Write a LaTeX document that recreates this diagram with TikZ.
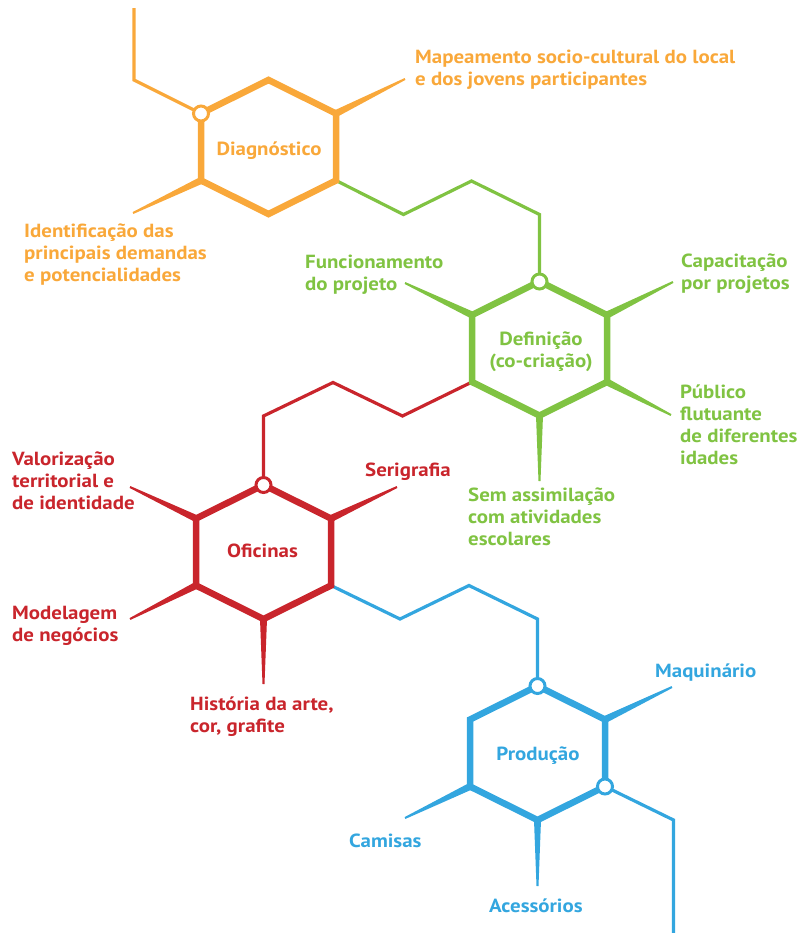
\documentclass[tikz,border=0pt]{standalone}
\usepackage{fontspec}
\setmainfont[FakeStretch=1.1]{PT Sans}
\usetikzlibrary{calc}
\definecolor{corange}{HTML}{F9A83A}
\definecolor{cgreen}{HTML}{80C342}
\definecolor{cred}{HTML}{C9252C}
\definecolor{cblue}{HTML}{33A6DF}
\newcommand\labfont{\fontsize{19bp}{22bp}\selectfont\bfseries}
\newcommand\hexpts[3]{%
  \coordinate (#1-t)  at (#2,#3-67);
  \coordinate (#1-ur) at (#2+67.5,#3-33.5);
  \coordinate (#1-lr) at (#2+67.5,#3+33.5);
  \coordinate (#1-b)  at (#2,#3+67);
  \coordinate (#1-ll) at (#2-67.5,#3+33.5);
  \coordinate (#1-ul) at (#2-67.5,#3-33.5);
  \coordinate (#1-c)  at (#2,#3);}
\newcommand\hexdraw[2]{\draw[hexline,#2] (#1-t) -- (#1-ur) -- (#1-lr) -- (#1-b) -- (#1-ll) -- (#1-ul) -- cycle;}
\newcommand\spoke[3]{\fill[#3] ($(#1)!3.5bp!90:(#2)$) -- ($(#2)!1bp!-90:(#1)$) -- ($(#2)!1bp!90:(#1)$) -- ($(#1)!3.5bp!-90:(#2)$) -- cycle;}
\tikzset{
  hexline/.style={line width=6.5bp, line join=miter},
  conn/.style={line width=3.2bp, line join=miter},
  ring/.style={circle, line width=3bp, fill=white, minimum size=15bp, inner sep=0pt},
  lab/.style={inner sep=0pt, anchor=north west, align=left, font=\labfont, yshift=15.4bp, execute at begin node=\strut},
  mid/.style={inner sep=0pt, anchor=north, align=center, font=\labfont, yshift=15.4bp, execute at begin node=\strut}
}
\begin{document}
\begin{tikzpicture}[x=1bp,y=-1bp]
\useasboundingbox (0,0) rectangle (799,933);
\hexpts{D}{268.5}{147}
\hexpts{E}{539.5}{348.5}
\hexpts{O}{263.5}{552}
\hexpts{P}{537.5}{753}
% connector coordinates
\coordinate (a0) at (134,8);
\coordinate (a1) at (134,80);
\coordinate (g1) at (403.5,214.5);
\coordinate (g2) at (471.5,181);
\coordinate (g3) at (539.5,214.5);
\coordinate (r1) at (402.5,416);
\coordinate (r2) at (333,382.5);
\coordinate (r3) at (263.5,416);
\coordinate (b1) at (400,619);
\coordinate (b2) at (469,585.5);
\coordinate (b3) at (537.5,619);
\coordinate (z1) at (673.5,820);
\coordinate (z2) at (673.5,940);
% spoke ends
\coordinate (sD1) at (405,79);
\coordinate (sD2) at (133,213);
\coordinate (sE1) at (405,283);
\coordinate (sE2) at (673,282);
\coordinate (sE3) at (671,415);
\coordinate (sE4) at (539.5,481);
\coordinate (sO1) at (130,487);
\coordinate (sO2) at (397,487);
\coordinate (sO3) at (130,619);
\coordinate (sO4) at (263.5,684);
\coordinate (sP1) at (672,687);
\coordinate (sP2) at (405,818);
\coordinate (sP3) at (537.5,886);
% connectors
\draw[conn,corange] (a0) -- (a1) -- (D-ul);
\draw[conn,cgreen] (D-lr) -- (g1) -- (g2) -- (g3) -- (E-t);
\draw[conn,cred] (E-ll) -- (r1) -- (r2) -- (r3) -- (O-t);
\draw[conn,cblue] (O-lr) -- (b1) -- (b2) -- (b3) -- (P-t);
\draw[conn,cblue] (P-lr) -- (z1) -- (z2);
% spokes
\spoke{D-ur}{sD1}{corange}
\spoke{D-ll}{sD2}{corange}
\spoke{E-ul}{sE1}{cgreen}
\spoke{E-ur}{sE2}{cgreen}
\spoke{E-lr}{sE3}{cgreen}
\spoke{E-b}{sE4}{cgreen}
\spoke{O-ul}{sO1}{cred}
\spoke{O-ur}{sO2}{cred}
\spoke{O-ll}{sO3}{cred}
\spoke{O-b}{sO4}{cred}
\spoke{P-ur}{sP1}{cblue}
\spoke{P-ll}{sP2}{cblue}
\spoke{P-b}{sP3}{cblue}
% hexagons
\hexdraw{D}{corange}
\hexdraw{E}{cgreen}
\hexdraw{O}{cred}
\hexdraw{P}{cblue}
% rings
\node[ring,draw=corange] (cD) at (D-ul) {};
\node[ring,draw=cgreen] (cE) at (E-t) {};
\node[ring,draw=cred] (cO) at (O-t) {};
\node[ring,draw=cblue] (cP) at (P-t) {};
\node[ring,draw=cblue] (cP2) at (P-lr) {};
% centre labels
\node[mid,text=corange] (tD) at (269,155) {Diagnóstico};
\node[mid,text=cgreen] (tE) at (541,347) {Definição\\(co-criação)};
\node[mid,text=cred] (tO) at (262.5,557) {Oficinas};
\node[mid,text=cblue] (tP) at (538,760) {Produção};
% side labels
\node[lab,text=corange] (l1) at (415,65) {Mapeamento socio-cultural do local\\e dos jovens participantes};
\node[lab,text=corange] (l2) at (24,239) {Identificação das\\principais demandas\\e potencialidades};
\node[lab,text=cgreen] (l3) at (305,270) {Funcionamento\\do projeto};
\node[lab,text=cgreen] (l4) at (681,269) {Capacitação\\por projetos};
\node[lab,text=cgreen] (l5) at (680,400) {Público\\flutuante\\de diferentes\\idades};
\node[lab,text=cgreen] (l6) at (468,503) {Sem assimilação\\com atividades\\escolares};
\node[lab,text=cred] (l7) at (12,467) {Valorização\\territorial e\\de identidade};
\node[lab,text=cred] (l8) at (365,476) {Serigrafia};
\node[lab,text=cred] (l9) at (12,621) {Modelagem\\de negócios};
\node[lab,text=cred] (l10) at (190,712) {História da arte,\\cor, grafite};
\node[lab,text=cblue] (l11) at (655,677) {Maquinário};
\node[lab,text=cblue] (l12) at (349,847) {Camisas};
\node[lab,text=cblue] (l13) at (489,912) {Acessórios};
\end{tikzpicture}
\end{document}
